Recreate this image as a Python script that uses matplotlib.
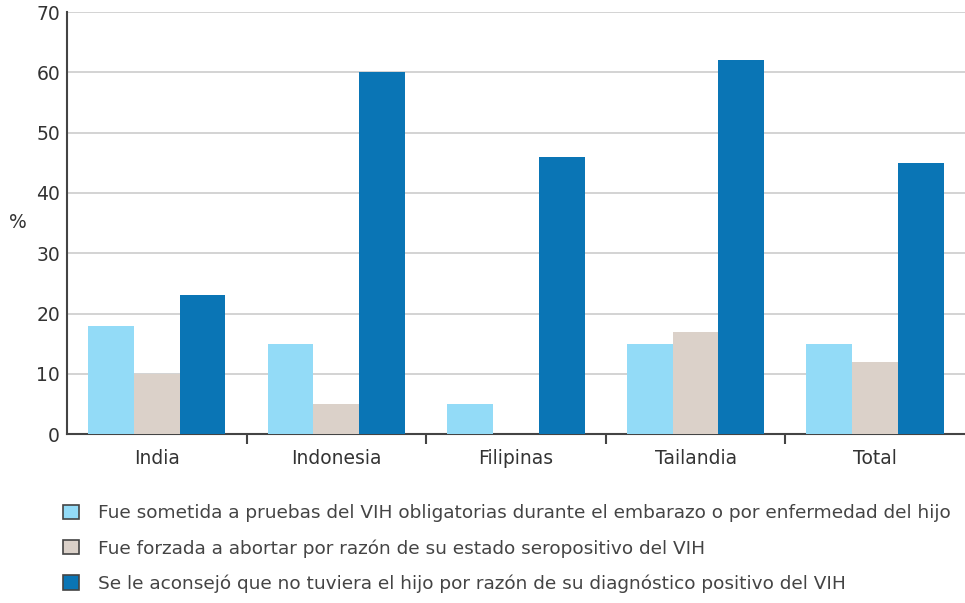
import matplotlib.pyplot as plt
import numpy as np
from matplotlib.patches import Patch

plt.rcParams['font.family'] = ['DejaVu Sans']

# datos
paises = ["India", "Indonesia", "Filipinas", "Tailandia", "Total"]
pruebas_obligatorias = [18, 15, 5, 15, 15]
aborto_forzado = [10, 5, 0, 17, 12]
aconsejo_no_hijo = [23, 60, 46, 62, 45]
series_labels = [
    "Fue sometida a pruebas del VIH obligatorias durante el embarazo o por enfermedad del hijo",
    "Fue forzada a abortar por razón de su estado seropositivo del VIH",
    "Se le aconsejó que no tuviera el hijo por razón de su diagnóstico positivo del VIH",
]
y_ticks = [0, 10, 20, 30, 40, 50, 60, 70]

colores = ["#93DBF7", "#DBD1C9", "#0A75B5"]

fig = plt.figure(figsize=(9.65, 6.03), dpi=100)
ax = fig.add_axes([0.0694, 0.280, 0.9306, 0.700])

x = np.arange(len(paises))
w = 0.255
for i, vals in enumerate([pruebas_obligatorias, aborto_forzado, aconsejo_no_hijo]):
    ax.bar(x + (i - 1) * w, vals, width=w, color=colores[i], zorder=3)

ax.set_xlim(-0.5, len(paises) - 0.5)
ax.set_ylim(0, 70)
ax.set_yticks(y_ticks)
ax.set_yticklabels([str(t) for t in y_ticks], fontsize=13.5, color="#333333")
ax.yaxis.grid(True, color="#cccccc", linewidth=1.2, zorder=0)
ax.tick_params(axis="y", length=0, pad=5)

# etiquetas de país sin marcas, marcas en los límites de grupo
ax.set_xticks(x)
ax.set_xticklabels(paises, fontsize=13.5, color="#333333")
ax.tick_params(axis="x", which="major", length=0, pad=11)
ax.set_xticks(np.arange(0.5, len(paises) - 0.5, 1), minor=True)
ax.tick_params(axis="x", which="minor", length=7, width=1.5, color="#444444", direction="out")

for s in ["top", "right"]:
    ax.spines[s].set_visible(False)
for s in ["left", "bottom"]:
    ax.spines[s].set_color("#444444")
    ax.spines[s].set_linewidth(1.5)

fig.text(18 / 965, 1 - 222 / 603, "%", fontsize=13.5, color="#333333", ha="center", va="center")

handles = [Patch(facecolor=c, edgecolor="#444444", linewidth=1.2) for c in colores]
fig.legend(handles, series_labels, loc="upper left", bbox_to_anchor=(56 / 965, 1 - 497 / 603),
           frameon=False, fontsize=13.3, labelcolor="#444444", handlelength=0.85, handleheight=0.85,
           handletextpad=1.0, labelspacing=0.9, borderaxespad=0)

fig.savefig("out.png", dpi=100)
